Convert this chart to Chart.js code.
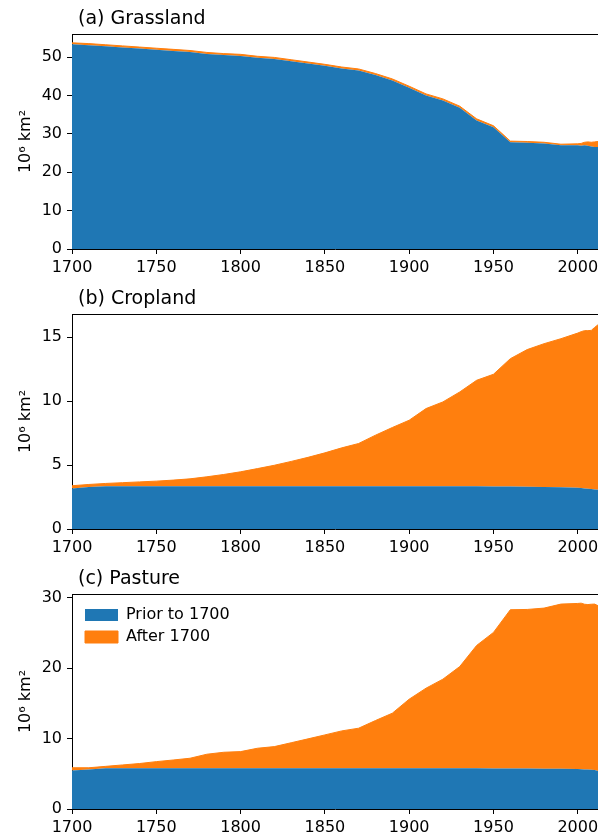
<!DOCTYPE html>
<html>
<head>
<meta charset="utf-8">
<script src="https://cdn.jsdelivr.net/npm/chart.js@4.4.1/dist/chart.umd.min.js"></script>
<style>
  body { margin: 0; background: #fff; }
  #wrap { position: relative; width: 598px; height: 836px; }
  .panel { position: absolute; left: 0; width: 598px; }
</style>
</head>
<body>
<div id="wrap">
  <div class="panel" style="top:0px;height:280px"><canvas id="grass"></canvas></div>
  <div class="panel" style="top:280px;height:280px"><canvas id="crop"></canvas></div>
  <div class="panel" style="top:560px;height:276px"><canvas id="past"></canvas></div>
</div>
<script>
// years (decadal, then every 2 years at the end)
const years = [1700, 1710, 1720, 1730, 1740, 1750, 1760, 1770, 1780, 1790,
  1800, 1810, 1820, 1830, 1840, 1850, 1860, 1870, 1880, 1890,
  1900, 1910, 1920, 1930, 1940, 1950, 1960, 1970, 1980, 1990,
  2000, 2002, 2004, 2006, 2008, 2010, 2012];

// 10^6 km^2
const grassPrior = [53.3, 53.1, 52.8, 52.5, 52.2, 51.9, 51.6, 51.3, 50.8, 50.5,
  50.3, 49.8, 49.5, 48.9, 48.3, 47.7, 47.0, 46.5, 45.3, 43.9,
  42.0, 40.0, 38.7, 36.8, 33.5, 31.7, 27.8, 27.7, 27.5, 27.0,
  27.0, 26.9, 27.0, 26.9, 26.7, 26.6, 26.55];
const grassAfter = [0.4, 0.4, 0.4, 0.4, 0.4, 0.4, 0.4, 0.4, 0.4, 0.4,
  0.4, 0.4, 0.4, 0.4, 0.4, 0.4, 0.4, 0.4, 0.4, 0.4,
  0.4, 0.4, 0.4, 0.4, 0.4, 0.4, 0.3, 0.3, 0.3, 0.3,
  0.4, 0.6, 0.8, 1.0, 1.1, 1.3, 1.45];

const cropPrior = [3.17, 3.28, 3.35, 3.35, 3.35, 3.35, 3.35, 3.35, 3.35, 3.35,
  3.35, 3.35, 3.35, 3.35, 3.35, 3.35, 3.35, 3.35, 3.35, 3.35,
  3.35, 3.35, 3.35, 3.35, 3.35, 3.33, 3.32, 3.31, 3.29, 3.27,
  3.22, 3.2, 3.17, 3.14, 3.12, 3.09, 3.07];
const cropAfter = [0.21, 0.2, 0.21, 0.27, 0.33, 0.39, 0.47, 0.57, 0.73, 0.91,
  1.12, 1.37, 1.63, 1.93, 2.25, 2.6, 2.99, 3.33, 3.98, 4.58,
  5.15, 6.06, 6.58, 7.36, 8.27, 8.76, 9.99, 10.71, 11.19, 11.6,
  12.09, 12.22, 12.33, 12.36, 12.4, 12.66, 12.89];

const pastPrior = [5.45, 5.6, 5.78, 5.78, 5.78, 5.78, 5.78, 5.78, 5.78, 5.78,
  5.78, 5.78, 5.78, 5.78, 5.78, 5.78, 5.78, 5.78, 5.78, 5.78,
  5.78, 5.78, 5.78, 5.78, 5.78, 5.75, 5.74, 5.73, 5.71, 5.7,
  5.66, 5.64, 5.62, 5.6, 5.58, 5.52, 5.4];
const pastAfter = [0.4, 0.25, 0.27, 0.47, 0.67, 0.94, 1.17, 1.42, 1.99, 2.27,
  2.36, 2.84, 3.07, 3.62, 4.17, 4.73, 5.3, 5.68, 6.77, 7.81,
  9.8, 11.36, 12.64, 14.43, 17.42, 19.3, 22.53, 22.58, 22.79, 23.37,
  23.5, 23.56, 23.43, 23.4, 23.47, 23.55, 23.44];

// tick labels
const xTicks = [1700, 1750, 1800, 1850, 1900, 1950, 2000];
const grassTicks = [0, 10, 20, 30, 40, 50];
const cropTicks = [0, 5, 10, 15];
const pastTicks = [0, 10, 20, 30];

const seriesNames = ["Prior to 1700", "After 1700"];
const blue = "#1f77b4";
const orange = "#ff7f0e";
const FONT = "DejaVu Sans";

Chart.defaults.font.family = FONT;
Chart.defaults.color = "#000";

// panel label + top spine
const frame = {
  id: "frame",
  afterDraw(chart, args, opts) {
    const ctx = chart.ctx, a = chart.chartArea;
    ctx.save();
    ctx.strokeStyle = "#000";
    ctx.lineWidth = 1;
    ctx.beginPath();
    ctx.moveTo(a.left, a.top + 0.5);
    ctx.lineTo(chart.width, a.top + 0.5);
    ctx.stroke();
    ctx.fillStyle = "#000";
    ctx.font = "19px '" + FONT + "'";
    ctx.textBaseline = "alphabetic";
    ctx.fillText(opts.label, a.left + 6, 24);
    ctx.restore();
  }
};

// legend sits inside the axes, upper left
const nudge = {
  id: "nudge",
  afterLayout(chart) {
    const lg = chart.legend;
    if (lg && lg.options.display) {
      const a = chart.chartArea;
      const h = lg.height;
      lg.left = a.left + 7;
      lg.right = lg.left + lg.width;
      lg.top = a.top + 7;
      lg.bottom = lg.top + h;
    }
  }
};

function pts(a) {
  return years.map((x, i) => ({x: x, y: a[i]}));
}

function makePanel(id, label, prior, after, ymax, yticks, xh, showLegend) {
  new Chart(document.getElementById(id), {
    type: "line",
    data: {
      datasets: [{
        label: seriesNames[0],
        data: pts(prior),
        backgroundColor: blue,
        borderColor: blue,
        borderWidth: 0,
        pointRadius: 0,
        fill: "origin"
      }, {
        label: seriesNames[1],
        data: pts(after),
        backgroundColor: orange,
        borderColor: orange,
        borderWidth: 1,
        pointRadius: 0,
        fill: "-1"
      }]
    },
    options: {
      responsive: true,
      maintainAspectRatio: false,
      animation: false,
      layout: {padding: {top: 34, left: 0, right: 0, bottom: 0}},
      plugins: {
        frame: {label: label},
        tooltip: {enabled: false},
        legend: {
          display: showLegend,
          position: "chartArea",
          align: "start",
          labels: {
            boxWidth: 33,
            boxHeight: 12,
            padding: 6,
            color: "#000",
            font: {size: 16}
          }
        }
      },
      scales: {
        x: {
          type: "linear",
          min: 1700,
          max: 2012,
          z: 1,
          afterFit: s => { s.height = xh; s.paddingLeft = 0; s.paddingRight = 0; },
          afterBuildTicks: s => { s.ticks = xTicks.map(v => ({value: v})); },
          grid: {display: true, drawOnChartArea: false, tickLength: 5, tickColor: "#000"},
          border: {display: true, color: "#000", width: 1},
          ticks: {padding: 4, font: {size: 16}, color: "#000", maxRotation: 0, autoSkip: false,
            callback: v => String(v)}
        },
        y: {
          stacked: true,
          min: 0,
          max: ymax,
          z: 1,
          afterFit: s => { s.width = 72; },
          afterBuildTicks: s => { s.ticks = yticks.map(v => ({value: v})); },
          grid: {display: true, drawOnChartArea: false, tickLength: 5, tickColor: "#000"},
          border: {display: true, color: "#000", width: 1},
          ticks: {padding: 5, font: {size: 16}, color: "#000", autoSkip: false,
            callback: v => String(v)},
          title: {display: true, text: "10\u2076 km\u00b2", font: {size: 16}, color: "#000",
            padding: {top: 16, bottom: 0}}
        }
      }
    },
    plugins: [frame, nudge]
  });
}

makePanel("grass", "(a) Grassland", grassPrior, grassAfter, 56, grassTicks, 31, false);
makePanel("crop", "(b) Cropland", cropPrior, cropAfter, 16.8, cropTicks, 31, false);
makePanel("past", "(c) Pasture", pastPrior, pastAfter, 30.5, pastTicks, 27, true);
</script>
</body>
</html>
